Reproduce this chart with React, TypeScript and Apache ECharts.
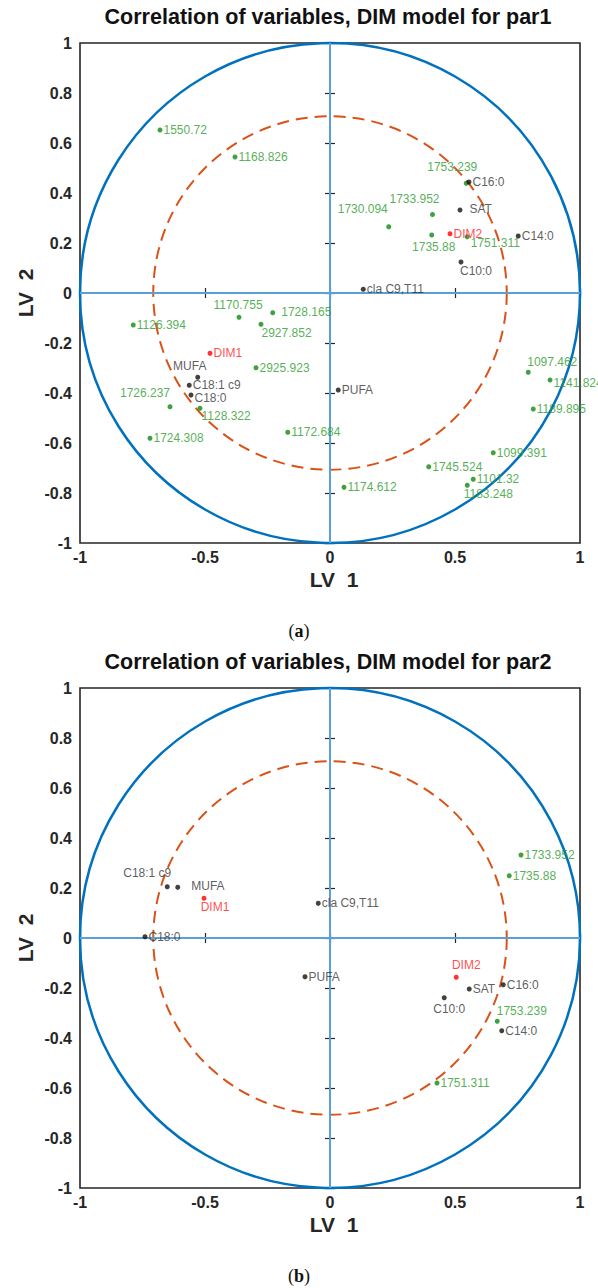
import React, { useEffect, useRef } from "react";
import * as echarts from "echarts";

// ---------- data ----------
const titles = [
  "Correlation of variables, DIM model for par1",
  "Correlation of variables, DIM model for par2",
];
const panelLetters = ["a", "b"];
const xAxisLabel = "LV  1";
const yAxisLabel = "LV  2";
const xTickStep = 0.5;
const yTickStep = 0.2;
const circleRadii = [1, 0.707];

const topNames = [
  "1550.72", "1168.826", "1753.239", "C16:0", "1733.952", "1730.094", "SAT", "DIM2",
  "1735.88", "1751.311", "C14:0", "C10:0", "cla C9,T11", "1126.394", "1170.755",
  "1728.165", "2927.852", "DIM1", "2925.923", "MUFA", "C18:1 c9", "C18:0", "1726.237",
  "1128.322", "1724.308", "1172.684", "PUFA", "1174.612", "1097.462", "1141.824",
  "1189.895", "1099.391", "1745.524", "1101.32", "1183.248",
];
const topX = [
  -0.68, -0.38, 0.545, 0.556, 0.41, 0.235, 0.52, 0.48, 0.407, 0.549, 0.753, 0.524,
  0.133, -0.787, -0.364, -0.229, -0.276, -0.48, -0.296, -0.529, -0.563, -0.556, -0.64,
  -0.52, -0.72, -0.169, 0.033, 0.056, 0.793, 0.88, 0.813, 0.653, 0.395, 0.573, 0.549,
];
const topY = [
  0.652, 0.544, 0.439, 0.444, 0.314, 0.265, 0.332, 0.237, 0.232, 0.225, 0.228, 0.124,
  0.015, -0.128, -0.097, -0.079, -0.125, -0.241, -0.299, -0.337, -0.369, -0.408, -0.455,
  -0.461, -0.581, -0.557, -0.388, -0.777, -0.317, -0.348, -0.464, -0.639, -0.695,
  -0.745, -0.769,
];

const botNames = [
  "C18:1 c9", "MUFA", "DIM1", "cla C9,T11", "C18:0", "PUFA", "1733.952", "1735.88",
  "DIM2", "SAT", "C16:0", "C10:0", "1753.239", "C14:0", "1751.311",
];
const botX = [
  -0.651, -0.609, -0.504, -0.047, -0.74, -0.1, 0.764, 0.717, 0.505, 0.557, 0.693,
  0.457, 0.669, 0.687, 0.428,
];
const botY = [
  0.205, 0.203, 0.159, 0.139, 0.005, -0.155, 0.332, 0.249, -0.157, -0.204, -0.187,
  -0.239, -0.333, -0.371, -0.58,
];

// ---------- styles ----------
type Place = [string, number, number];
const topPlace: Record<string, Place> = {
  "1753.239": ["top", -14, -7],
  "1733.952": ["top", -18, -6],
  "1730.094": ["top", -26, -8],
  SAT: ["right", 6, -1],
  "1735.88": ["bottom", 2, 2],
  "1751.311": ["right", 0, 6],
  "C10:0": ["bottom", 15, -1],
  "1170.755": ["top", -1, -3],
  "1728.165": ["right", 5, -1],
  "2927.852": ["right", -3, 9],
  MUFA: ["top", -8, -2],
  "C18:0": ["right", 0, 3],
  "1726.237": ["top", -25, -4],
  "1128.322": ["right", -2, 8],
  "1097.462": ["top", 24, -1],
  "1141.824": ["right", 0, 3],
  "1183.248": ["bottom", 21, -1],
};
const botPlace: Record<string, Place> = {
  "C18:1 c9": ["top", -20, -4],
  MUFA: ["right", 10, -1],
  DIM1: ["bottom", 11, -1],
  DIM2: ["top", 10, -3],
  "C10:0": ["bottom", 5, 2],
  "1753.239": ["right", -4, -10],
};

const FONT = "Liberation Sans, Arial, Helvetica, sans-serif";
const DARK = "#262626";
const GRID_LEFT = 80;
const GRID_W = 500;
const GRID_H = 500;
const GRID_TOPS = [43, 688];

const kindColors = (name: string) => {
  if (name.startsWith("DIM")) return { dot: "#ff0000", text: "#ff1a1a" };
  if (/^\d/.test(name)) return { dot: "#0f8a0f", text: "#2a9a2a" };
  return { dot: "#111111", text: "#333333" };
};

function buildPoints(names: string[], xs: number[], ys: number[], place: Record<string, Place>) {
  return names.map((n, i) => {
    const c = kindColors(n);
    const p = place[n] || ["right", 0, 0];
    return {
      name: n,
      value: [xs[i], ys[i]],
      itemStyle: { color: c.dot },
      label: {
        show: true,
        formatter: n,
        position: p[0],
        offset: [p[1], p[2]],
        distance: 1,
        color: c.text,
        fontSize: 12,
        fontFamily: FONT,
      },
    };
  });
}

const circleStyles = [
  { stroke: "#0072BD", lineWidth: 2.5, lineDash: null as any },
  { stroke: "#D95319", lineWidth: 2, lineDash: [12, 7] },
];

export default function App() {
  const ref = useRef<HTMLDivElement>(null);
  useEffect(() => {
    if (!ref.current) return;
    const chart = echarts.init(ref.current, null, { renderer: "svg" });
    const grids: any[] = [];
    const xAxes: any[] = [];
    const yAxes: any[] = [];
    const series: any[] = [];
    const graphics: any[] = [];
    const panels = [
      buildPoints(topNames, topX, topY, topPlace),
      buildPoints(botNames, botX, botY, botPlace),
    ];
    panels.forEach((pts, i) => {
      const top = GRID_TOPS[i];
      grids.push({
        left: GRID_LEFT,
        top,
        width: GRID_W,
        height: GRID_H,
        show: true,
        borderColor: DARK,
        borderWidth: 1.6,
        backgroundColor: "transparent",
      });
      const tick = { show: true, inside: true, length: 5, lineStyle: { color: DARK, width: 1.2 } };
      const lbl = { fontSize: 16, fontWeight: "bold", color: DARK, fontFamily: FONT };
      xAxes.push(
        {
          gridIndex: i, type: "value", min: -1, max: 1, interval: xTickStep, position: "bottom",
          axisLine: { show: false }, axisTick: tick, splitLine: { show: false },
          axisLabel: { ...lbl, margin: 6 },
        },
        {
          gridIndex: i, type: "value", min: -1, max: 1, interval: xTickStep, position: "top",
          axisLine: { show: false }, axisTick: tick, splitLine: { show: false },
          axisLabel: { show: false },
        }
      );
      yAxes.push(
        {
          gridIndex: i, type: "value", min: -1, max: 1, interval: yTickStep, position: "left",
          axisLine: { show: false }, axisTick: tick, splitLine: { show: false },
          axisLabel: { ...lbl, margin: 8 },
        },
        {
          gridIndex: i, type: "value", min: -1, max: 1, interval: yTickStep, position: "right",
          axisLine: { show: false }, axisTick: tick, splitLine: { show: false },
          axisLabel: { show: false },
        }
      );
      series.push({
        type: "custom",
        xAxisIndex: 2 * i,
        yAxisIndex: 2 * i,
        coordinateSystem: "cartesian2d",
        silent: true,
        z: 2,
        clip: false,
        encode: { x: 0, y: 1 },
        data: circleRadii.map((r) => [0, 0, r]),
        renderItem: (params: any, api: any) => {
          const c = api.coord([0, 0]);
          const s = api.size([api.value(2), api.value(2)]);
          const st = circleStyles[params.dataIndex];
          return {
            type: "circle",
            shape: { cx: c[0], cy: c[1], r: s[0] },
            style: { fill: "none", stroke: st.stroke, lineWidth: st.lineWidth, lineDash: st.lineDash },
          };
        },
        markLine: {
          silent: true,
          symbol: ["none", "none"],
          label: { show: false },
          lineStyle: { color: "#5aa0d8", width: 2, type: "solid" },
          data: [{ xAxis: 0 }, { yAxis: 0 }],
        },
      });
      series.push({
        type: "scatter",
        xAxisIndex: 2 * i,
        yAxisIndex: 2 * i,
        symbol: "circle",
        symbolSize: 5,
        z: 5,
        silent: true,
        data: pts,
      });
      const cx = GRID_LEFT + GRID_W / 2;
      const cy = top + GRID_H / 2;
      graphics.push(
        {
          type: "text",
          x: cx - 2,
          y: top - 26,
          style: {
            text: titles[i], fontSize: 21.5, fontWeight: "bold", fill: "#111", fontFamily: FONT,
            textAlign: "center", textVerticalAlign: "middle",
          },
        },
        {
          type: "text",
          x: cx + 4,
          y: top + GRID_H + 36,
          style: {
            text: xAxisLabel, fontSize: 21, fontWeight: "bold", fill: DARK, fontFamily: FONT,
            textAlign: "center", textVerticalAlign: "middle",
          },
        },
        {
          type: "text",
          x: 25,
          y: cy,
          rotation: Math.PI / 2,
          style: {
            text: yAxisLabel, fontSize: 21, fontWeight: "bold", fill: DARK, fontFamily: FONT,
            textAlign: "center", textVerticalAlign: "middle",
          },
        },
        {
          type: "text",
          x: 299,
          y: top + GRID_H + 88,
          style: {
            text: "(" + "{b|" + panelLetters[i] + "})",
            rich: { b: { fontWeight: "bold", fontSize: 18, fontFamily: "Liberation Serif, serif", fill: "#111" } },
            fontSize: 18, fontFamily: "Liberation Serif, serif", fill: "#111",
            textAlign: "center", textVerticalAlign: "middle",
          },
        }
      );
    });
    chart.setOption({
      animation: false,
      backgroundColor: "#ffffff",
      grid: grids,
      xAxis: xAxes,
      yAxis: yAxes,
      series,
      graphic: graphics,
    });
    return () => chart.dispose();
  }, []);
  return (
    <div
      ref={ref}
      style={{ position: "absolute", left: 0, top: 0, width: 598, height: 1288, background: "#fff" }}
    />
  );
}
